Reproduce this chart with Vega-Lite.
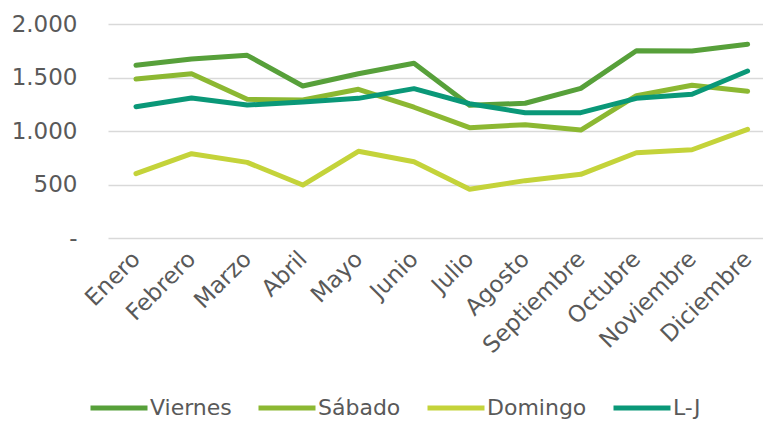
{
  "$schema": "https://vega.github.io/schema/vega-lite/v6.json",
  "width": 655,
  "height": 214,
  "autosize": "none",
  "padding": {"left": 108, "top": 24, "right": 0, "bottom": 183},
  "background": "white",
  "config": {
    "view": {"stroke": null},
    "font": "DejaVu Sans"
  },
  "data": {
    "values": [
      {"mes": "Enero", "serie": "Viernes", "v": 1614},
      {"mes": "Febrero", "serie": "Viernes", "v": 1673},
      {"mes": "Marzo", "serie": "Viernes", "v": 1707},
      {"mes": "Abril", "serie": "Viernes", "v": 1420},
      {"mes": "Mayo", "serie": "Viernes", "v": 1535},
      {"mes": "Junio", "serie": "Viernes", "v": 1633},
      {"mes": "Julio", "serie": "Viernes", "v": 1240},
      {"mes": "Agosto", "serie": "Viernes", "v": 1259},
      {"mes": "Septiembre", "serie": "Viernes", "v": 1399},
      {"mes": "Octubre", "serie": "Viernes", "v": 1750},
      {"mes": "Noviembre", "serie": "Viernes", "v": 1748},
      {"mes": "Diciembre", "serie": "Viernes", "v": 1810},
      {"mes": "Enero", "serie": "Sábado", "v": 1486},
      {"mes": "Febrero", "serie": "Sábado", "v": 1536},
      {"mes": "Marzo", "serie": "Sábado", "v": 1296},
      {"mes": "Abril", "serie": "Sábado", "v": 1290},
      {"mes": "Mayo", "serie": "Sábado", "v": 1390},
      {"mes": "Junio", "serie": "Sábado", "v": 1222},
      {"mes": "Julio", "serie": "Sábado", "v": 1031},
      {"mes": "Agosto", "serie": "Sábado", "v": 1059},
      {"mes": "Septiembre", "serie": "Sábado", "v": 1009},
      {"mes": "Octubre", "serie": "Sábado", "v": 1330},
      {"mes": "Noviembre", "serie": "Sábado", "v": 1427},
      {"mes": "Diciembre", "serie": "Sábado", "v": 1371},
      {"mes": "Enero", "serie": "Domingo", "v": 601},
      {"mes": "Febrero", "serie": "Domingo", "v": 788},
      {"mes": "Marzo", "serie": "Domingo", "v": 707},
      {"mes": "Abril", "serie": "Domingo", "v": 495},
      {"mes": "Mayo", "serie": "Domingo", "v": 810},
      {"mes": "Junio", "serie": "Domingo", "v": 713},
      {"mes": "Julio", "serie": "Domingo", "v": 455},
      {"mes": "Agosto", "serie": "Domingo", "v": 536},
      {"mes": "Septiembre", "serie": "Domingo", "v": 595},
      {"mes": "Octubre", "serie": "Domingo", "v": 797},
      {"mes": "Noviembre", "serie": "Domingo", "v": 825},
      {"mes": "Diciembre", "serie": "Domingo", "v": 1016},
      {"mes": "Enero", "serie": "L-J", "v": 1227},
      {"mes": "Febrero", "serie": "L-J", "v": 1308},
      {"mes": "Marzo", "serie": "L-J", "v": 1243},
      {"mes": "Abril", "serie": "L-J", "v": 1271},
      {"mes": "Mayo", "serie": "L-J", "v": 1305},
      {"mes": "Junio", "serie": "L-J", "v": 1396},
      {"mes": "Julio", "serie": "L-J", "v": 1255},
      {"mes": "Agosto", "serie": "L-J", "v": 1171},
      {"mes": "Septiembre", "serie": "L-J", "v": 1171},
      {"mes": "Octubre", "serie": "L-J", "v": 1305},
      {"mes": "Noviembre", "serie": "L-J", "v": 1343},
      {"mes": "Diciembre", "serie": "L-J", "v": 1561}
    ]
  },
  "mark": {"type": "line", "strokeWidth": 5, "strokeCap": "round", "strokeJoin": "round"},
  "encoding": {
    "x": {
      "field": "mes",
      "type": "nominal",
      "sort": null,
      "scale": {"type": "point", "padding": 0.39, "align": 0.645},
      "axis": {
        "title": null,
        "domain": false,
        "ticks": false,
        "grid": false,
        "labelAngle": -45,
        "labelAlign": "right",
        "labelBaseline": "middle",
        "labelPadding": 17,
        "labelFontSize": 23,
        "labelColor": "#595959",
        "labelFont": "DejaVu Sans"
      }
    },
    "y": {
      "field": "v",
      "type": "quantitative",
      "scale": {"domain": [0, 2000], "nice": false},
      "axis": {
        "title": null,
        "values": [0, 500, 1000, 1500, 2000],
        "labelExpr": "datum.value == 0 ? '-' : replace(format(datum.value, ',d'), ',', '.')",
        "domain": false,
        "ticks": false,
        "grid": true,
        "gridColor": "#d9d9d9",
        "gridWidth": 1.5,
        "labelPadding": 31,
        "labelFontSize": 23,
        "labelColor": "#595959",
        "labelFont": "DejaVu Sans"
      }
    },
    "color": {
      "field": "serie",
      "type": "nominal",
      "sort": ["Viernes", "Sábado", "Domingo", "L-J"],
      "scale": {
        "domain": ["Viernes", "Sábado", "Domingo", "L-J"],
        "range": ["#57a03a", "#8cb832", "#c4d33a", "#0a9878"]
      },
      "legend": {
        "title": null,
        "orient": "none",
        "direction": "horizontal",
        "legendX": -20,
        "legendY": 353,
        "symbolType": "stroke",
        "symbolSize": 3249,
        "symbolStrokeWidth": 5,
        "labelFontSize": 22,
        "labelColor": "#595959",
        "labelFont": "DejaVu Sans",
        "labelOffset": 0,
        "columnPadding": 16
      }
    }
  }
}
